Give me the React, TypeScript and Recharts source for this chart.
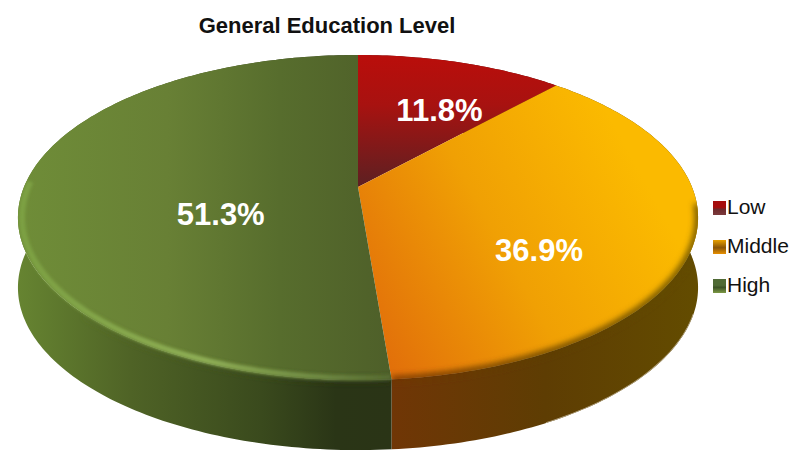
import { Legend, Pie, PieChart } from "recharts"

const levels = ["Low", "Middle", "High"]
const shares = [11.8, 36.9, 51.3]

const FONT = '"Liberation Sans", Arial, sans-serif'
const DEG = Math.PI / 180
// the pie is a tilted disc: a homography of the library's circle
const TILT = 0.188
const SQUASH = 156.8 / 334
const DEPTH = 70

const data = levels.map((name, i) => ({ name, value: shares[i], fill: `url(#top-${name})` }))

const labelPlace: Record<string, { r: number; dx: number; dy: number }> = {
  Low: { r: 0.758, dx: 0.5, dy: 21 },
  Middle: { r: 0.567, dx: -4.5, dy: 34 },
  High: { r: 0.41, dx: 0, dy: 25 },
}

const swatches: Record<string, string> = {
  Low: "linear-gradient(#a50d0d 0 45%, #6e2a2c 60%, #7c3a3c)",
  Middle: "linear-gradient(#e8a000, #8a5508 55%, #e89000)",
  High: "linear-gradient(#4f6a35 0 45%, #3c5226 60%, #7d9a45)",
}

const project = (cx: number, cy: number, radius: number, angle: number, fraction = 1) => {
  const u = Math.cos(angle * DEG) * fraction
  const v = -Math.sin(angle * DEG) * fraction
  const w = 1 - TILT * v
  return [cx + (radius * u) / w, cy + (radius * SQUASH * v) / w]
}

const arc = (cx: number, cy: number, radius: number, from: number, to: number, dy = 0) => {
  const steps = Math.max(2, Math.ceil(Math.abs(to - from)))
  const pts: string[] = []
  for (let i = 0; i <= steps; i++) {
    const [x, y] = project(cx, cy, radius, from + ((to - from) * i) / steps)
    pts.push(`${x.toFixed(2)},${(y + dy).toFixed(2)}`)
  }
  return pts
}

function Wedge(props: any) {
  const { cx, cy, outerRadius, startAngle, endAngle, name, fill } = props
  const top = arc(cx, cy, outerRadius, startAngle, endAngle)
  const bottom = arc(cx, cy, outerRadius, endAngle, startAngle, DEPTH)
  const wallPath = `M${[...top, ...bottom].join("L")}Z`
  const facePath = `M${cx},${cy}L${top.join("L")}Z`
  const frontFrom = Math.min(startAngle, -6)
  const frontTo = Math.max(endAngle, -182)
  const front = frontFrom > frontTo ? arc(cx, cy, outerRadius, frontFrom, frontTo) : null
  return (
    <g>
      <clipPath id={`clip-${name}`}>
        <path d={wallPath} />
        <path d={facePath} />
      </clipPath>
      <path d={wallPath} fill={`url(#wall-${name})`} />
      <path d={facePath} fill={fill} />
      <g clipPath={`url(#clip-${name})`}>
        {front && name === "Middle" && (
          <>
            <path d={`M${front.join("L")}`} fill="none" stroke="url(#wall-Middle)" strokeWidth={6} filter="url(#soft)" />
            <path
              d={`M${arc(cx, cy, outerRadius, -20, -62, DEPTH).join("L")}`}
              fill="none"
              stroke="#b5a685"
              strokeWidth={1.5}
            />
          </>
        )}
        {front && name === "High" && (
          <>
            <path
              d={`M${arc(cx, cy, outerRadius, frontFrom, -135).join("L")}`}
              fill="none"
              stroke="url(#wall-High)"
              strokeWidth={4}
              filter="url(#soft)"
            />
            <path
              d={`M${arc(cx, cy, outerRadius - 4, frontFrom, frontTo).join("L")}`}
              fill="none"
              stroke="url(#rim-High)"
              strokeWidth={6}
              filter="url(#softer)"
            />
          </>
        )}
      </g>
    </g>
  )
}

const renderLabel = (props: any) => {
  const { cx, cy, outerRadius, midAngle, name, value } = props
  const place = labelPlace[name]
  const [x, y] = project(cx, cy, outerRadius, midAngle, place.r)
  return (
    <text
      x={x + place.dx}
      y={y + place.dy}
      fill="#fff"
      fontFamily={FONT}
      fontSize={31}
      fontWeight={700}
      textAnchor="middle"
      dominantBaseline="central"
    >
      {`${value.toFixed(1)}%`}
    </text>
  )
}

const renderLegend = (props: any) => (
  <div style={{ fontFamily: FONT, fontSize: 21, color: "#111" }}>
    {props.payload.map((entry: any) => (
      <div key={entry.value} style={{ display: "flex", alignItems: "center", height: 39 }}>
        <span style={{ width: 13, height: 14, marginRight: 1, marginTop: 3, background: swatches[entry.value] }} />
        {entry.value}
      </div>
    ))}
  </div>
)

export default function App() {
  return (
    <div style={{ position: "absolute", left: 0, top: 0 }}>
      <PieChart width={790} height={451} margin={{ top: 0, right: 0, bottom: 0, left: 0 }}>
        <defs>
          <linearGradient id="top-Low" gradientUnits="userSpaceOnUse" x1={0} y1={60} x2={0} y2={187}>
            <stop offset="0" stopColor="#b80e0b" />
            <stop offset="0.35" stopColor="#a81210" />
            <stop offset="1" stopColor="#5c2022" />
          </linearGradient>
          <linearGradient id="top-Middle" gradientUnits="userSpaceOnUse" x1={375} y1={340} x2={650} y2={190}>
            <stop offset="0" stopColor="#e2700a" />
            <stop offset="0.5" stopColor="#f0a004" />
            <stop offset="1" stopColor="#fbba00" />
          </linearGradient>
          <linearGradient id="top-High" gradientUnits="userSpaceOnUse" x1={18} y1={0} x2={392} y2={0}>
            <stop offset="0" stopColor="#6f8d38" />
            <stop offset="0.4" stopColor="#688035" />
            <stop offset="0.7" stopColor="#576d2d" />
            <stop offset="1" stopColor="#4e5f29" />
          </linearGradient>
          <linearGradient id="wall-Low" gradientUnits="userSpaceOnUse" x1={358} y1={0} x2={560} y2={0}>
            <stop offset="0" stopColor="#5a1010" />
            <stop offset="1" stopColor="#5a1010" />
          </linearGradient>
          <linearGradient id="wall-Middle" gradientUnits="userSpaceOnUse" x1={392} y1={0} x2={698} y2={0}>
            <stop offset="0" stopColor="#703606" />
            <stop offset="0.5" stopColor="#5e3d03" />
            <stop offset="1" stopColor="#634c00" />
          </linearGradient>
          <linearGradient id="wall-High" gradientUnits="userSpaceOnUse" x1={18} y1={0} x2={392} y2={0}>
            <stop offset="0" stopColor="#668431" />
            <stop offset="0.3" stopColor="#4f6326" />
            <stop offset="0.65" stopColor="#3a4a1d" />
            <stop offset="0.85" stopColor="#2a3516" />
            <stop offset="1" stopColor="#2a3416" />
          </linearGradient>
          <linearGradient id="rim-High" gradientUnits="userSpaceOnUse" x1={18} y1={0} x2={392} y2={0}>
            <stop offset="0" stopColor="#7ca042" />
            <stop offset="0.5" stopColor="#8eae55" />
            <stop offset="0.8" stopColor="#6f8a42" />
            <stop offset="1" stopColor="#566a30" />
          </linearGradient>
          <filter id="soft" filterUnits="userSpaceOnUse" x={0} y={0} width={790} height={451}>
            <feGaussianBlur stdDeviation={3} />
          </filter>
          <filter id="softer" filterUnits="userSpaceOnUse" x={0} y={0} width={790} height={451}>
            <feGaussianBlur stdDeviation={1.8} />
          </filter>
        </defs>
        <text x={327} y={25} textAnchor="middle" dominantBaseline="central" fontFamily={FONT} fontSize={22} fontWeight={700} fill="#111">
          General Education Level
        </text>
        <Pie
          data={data}
          dataKey="value"
          nameKey="name"
          cx={358}
          cy={187}
          innerRadius={0}
          outerRadius={334}
          startAngle={90}
          endAngle={-270}
          stroke="none"
          isAnimationActive={false}
          labelLine={false}
          label={renderLabel}
          shape={Wedge}
        />
        <line x1={18} y1={212} x2={698} y2={212} stroke="#fff" strokeOpacity={0.12} strokeWidth={1} />
        <Legend
          layout="vertical"
          itemSorter={null}
          content={renderLegend}
          wrapperStyle={{ position: "absolute", left: 713, top: 187, width: 77 }}
        />
      </PieChart>
    </div>
  )
}
